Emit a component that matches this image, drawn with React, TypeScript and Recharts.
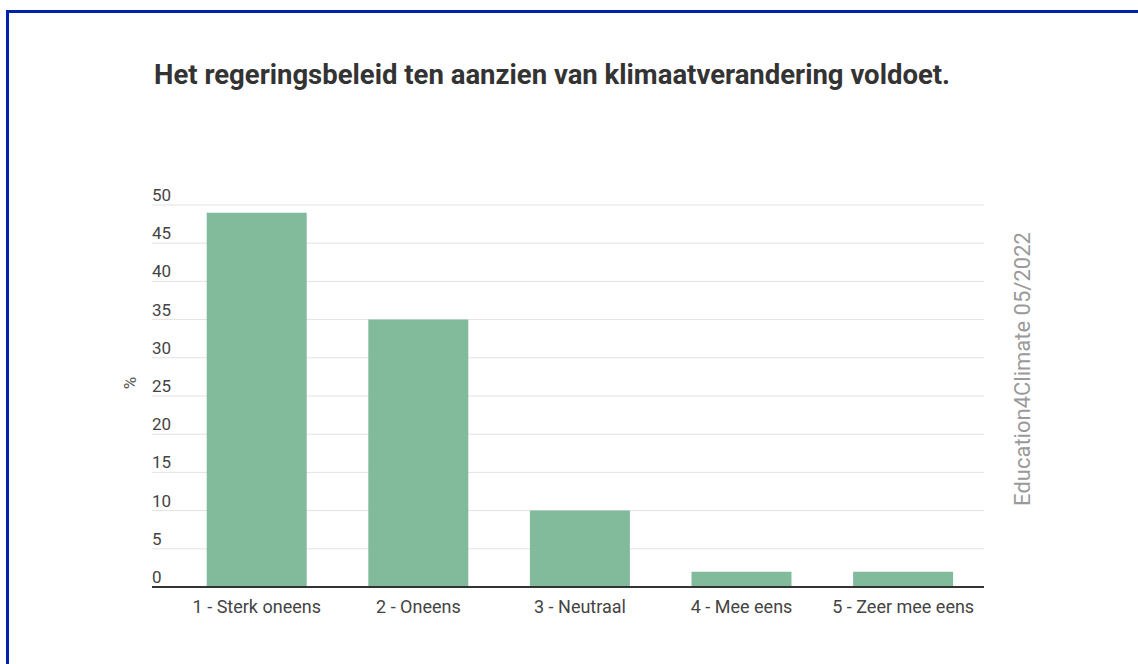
import { BarChart, Bar, XAxis, YAxis, CartesianGrid } from 'recharts';

const categories = ['1 - Sterk oneens', '2 - Oneens', '3 - Neutraal', '4 - Mee eens', '5 - Zeer mee eens'];
const percentages = [49, 35, 10, 2, 2];
const yTicks = [0, 5, 10, 15, 20, 25, 30, 35, 40, 45, 50];

const chartData = categories.map((c, i) => ({ name: c, value: percentages[i] }));

const FONT = 'Roboto, "Noto Sans", sans-serif';

function YTick(props: any) {
  const { x, y, payload } = props;
  return (
    <text x={x} y={y - 4} textAnchor="start" fontSize={17} fill="#444" fontFamily={FONT}>
      {payload.value}
    </text>
  );
}

export default function App() {
  return (
    <div style={{ position: 'absolute', left: 0, top: 0, width: 1138, height: 664, background: '#fff', overflow: 'hidden', fontFamily: FONT }}>
      {/* blauwe rand */}
      <div style={{ position: 'absolute', left: 6, top: 10, width: 1200, height: 700, borderTop: '3px solid #0022aa', borderLeft: '3px solid #0022aa' }} />
      <div style={{ position: 'absolute', left: 154, top: 61, fontSize: 27.5, lineHeight: '28px', fontWeight: 700, color: '#333', whiteSpace: 'nowrap' }}>
        Het regeringsbeleid ten aanzien van klimaatverandering voldoet.
      </div>
      <div style={{ position: 'absolute', left: 130, top: 383, transform: 'translate(-50%, -50%) rotate(-90deg)', fontSize: 17, color: '#555' }}>
        %
      </div>
      <div style={{ position: 'absolute', left: 1022, top: 369, transform: 'translate(-50%, -50%) rotate(-90deg)', fontSize: 22, color: '#9a9a9a', whiteSpace: 'nowrap' }}>
        Education4Climate 05/2022
      </div>
      <div style={{ position: 'absolute', left: 0, top: 0 }}>
        <BarChart
          width={1138}
          height={664}
          data={chartData}
          margin={{ top: 205, left: 112, right: 154, bottom: 47 }}
          barCategoryGap="19%"
        >
          <CartesianGrid vertical={false} stroke="#e3e3e3" />
          <YAxis
            width={40}
            domain={[0, 50]}
            ticks={yTicks}
            interval={0}
            axisLine={false}
            tickLine={false}
            tickSize={0}
            tickMargin={0}
            tick={<YTick />}
          />
          <XAxis
            dataKey="name"
            height={30}
            padding={{ left: 24, right: 0 }}
            tickLine={false}
            tickSize={0}
            axisLine={{ stroke: '#333', strokeWidth: 2 }}
            tick={{ fontSize: 18, fill: '#444', fontFamily: FONT }}
            tickMargin={13}
            interval={0}
          />
          <Bar dataKey="value" fill="#81bb9c" isAnimationActive={false} />
        </BarChart>
      </div>
    </div>
  );
}
